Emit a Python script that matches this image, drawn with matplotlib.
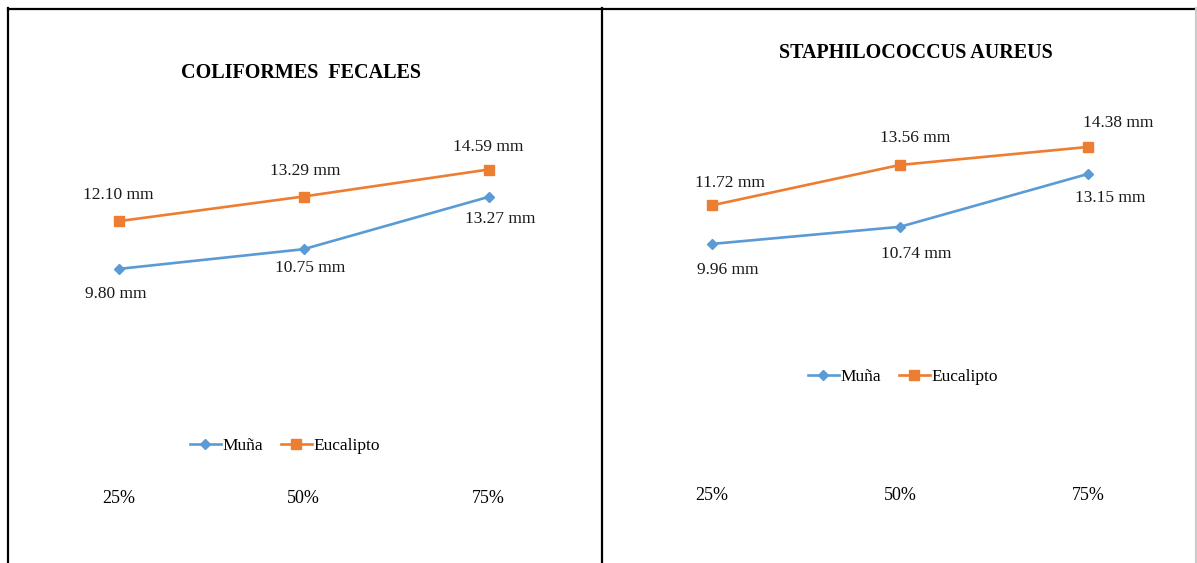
import matplotlib.pyplot as plt
from matplotlib.lines import Line2D

plt.rcParams['font.family'] = ['Liberation Serif', 'DejaVu Serif']

# data
categories = ['25%', '50%', '75%']
series_names = ['Muña', 'Eucalipto']
coliformes_muna = [9.80, 10.75, 13.27]
coliformes_eucalipto = [12.10, 13.29, 14.59]
staph_muna = [9.96, 10.74, 13.15]
staph_eucalipto = [11.72, 13.56, 14.38]

BLUE = '#5B9BD5'
ORANGE = '#ED7D31'

W, H = 1197, 563
fig = plt.figure(figsize=(W / 100, H / 100), dpi=100)


def px_axes(x0, x1, y0, y1):
    # pixel box (top-left origin) -> figure fraction axes
    return fig.add_axes([x0 / W, 1 - y1 / H, (x1 - x0) / W, (y1 - y0) / H])


def draw_panel(ax, title, title_xy, muna, euca, ylim, muna_off, euca_off, legend_xy, tick_pad):
    x = range(len(categories))
    ax.plot(x, muna, color=BLUE, lw=1.9, marker='D', ms=5.5, label=series_names[0])
    ax.plot(x, euca, color=ORANGE, lw=1.9, marker='s', ms=7, label=series_names[1])
    for i, v in enumerate(muna):
        ax.annotate(f'{v:.2f} mm', (i, v), xytext=muna_off[i], textcoords='offset pixels',
                    ha='center', va='center', fontsize=12.5, color='#1a1a1a')
    for i, v in enumerate(euca):
        ax.annotate(f'{v:.2f} mm', (i, v), xytext=euca_off[i], textcoords='offset pixels',
                    ha='center', va='center', fontsize=12.5, color='#1a1a1a')
    ax.set_xlim(-0.5, 2.5)
    ax.set_ylim(*ylim)
    ax.set_xticks(list(x))
    ax.set_xticklabels(categories, fontsize=13)
    ax.tick_params(axis='x', length=0, pad=tick_pad)
    ax.set_yticks([])
    for s in ax.spines.values():
        s.set_visible(False)
    ax.text(title_xy[0], title_xy[1], title, transform=ax.transAxes, ha='center', va='center',
            fontsize=14.5, fontweight='bold')
    handles = [Line2D([], [], color=BLUE, lw=1.9, marker='D', ms=5.5),
               Line2D([], [], color=ORANGE, lw=1.9, marker='s', ms=7)]
    ax.legend(handles, series_names, loc='center', bbox_to_anchor=legend_xy, ncol=2,
              frameon=False, fontsize=12.5, handlelength=1.8, handletextpad=0.1,
              columnspacing=1.0)


# left panel: categories at x=119, 303, 489 px
ax1 = px_axes(26, 581, 100, 480)
draw_panel(ax1, 'COLIFORMES  FECALES', (0.495, (480 - 73) / 380),
           coliformes_muna, coliformes_eucalipto, (-0.37, 17.94),
           [(-3, -25), (7, -19), (12, -22)], [(0, 26), (2, 26), (0, 23)],
           ((285 - 26) / 555, (480 - 446) / 380), 7)

# right panel: categories at x=712, 900, 1088 px
ax2 = px_axes(618, 1182, 100, 480)
draw_panel(ax2, 'STAPHILOCOCCUS AUREUS', ((916 - 618) / 564, (480 - 53) / 380),
           staph_muna, staph_eucalipto, (-0.80, 16.52),
           [(16, -26), (16, -27), (22, -24)], [(18, 22), (15, 27), (30, 24)],
           ((903 - 618) / 564, (480 - 377) / 380), 5)

# panel borders
for xs, ys, c in [((8, 1197), (8.5, 8.5), 'black'),
                  ((8, 8), (8, 563), 'black'),
                  ((602, 602), (8, 563), 'black'),
                  ((1195.5, 1195.5), (8, 563), '#cccccc')]:
    fig.add_artist(Line2D([x / W for x in xs], [1 - y / H for y in ys], color=c, lw=1.6))

fig.savefig('out.png', dpi=100, facecolor='white')
